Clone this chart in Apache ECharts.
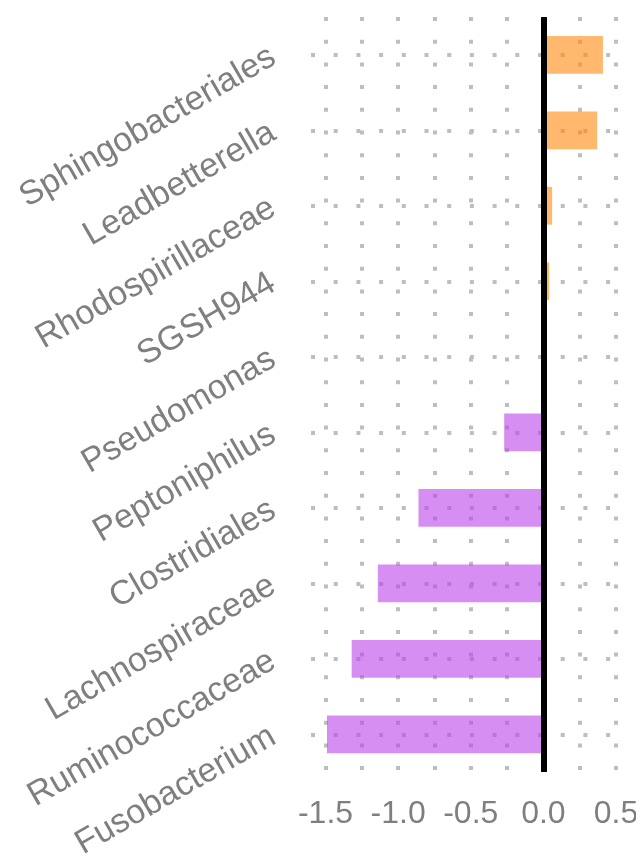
<!DOCTYPE html>
<html>
<head>
    <meta charset="UTF-8">
    <title>Taxa bar chart</title>
    <script src="https://cdn.jsdelivr.net/npm/echarts@6/dist/echarts.min.js"></script>
    <style>
        html, body { margin: 0; padding: 0; background: #fff; }
        #chart { width: 636px; height: 867px; }
    </style>
</head>
<body>
    <div id="chart"></div>
    <script>
        // data
        const taxa = ['Sphingobacteriales', 'Leadbetterella', 'Rhodospirillaceae', 'SGSH944', 'Pseudomonas',
                      'Peptoniphilus', 'Clostridiales', 'Lachnospiraceae', 'Ruminococcaceae', 'Fusobacterium'];
        const scores = [0.41, 0.37, 0.06, 0.04, 0.01, -0.27, -0.86, -1.14, -1.32, -1.49];
        const xLabels = [-1.5, -1.0, -0.5, 0.0, 0.5];
        const xGrid = [-1.5, -1.25, -1.0, -0.75, -0.5, -0.25, 0.25, 0.5];

        const dotStyle = { color: '#bebebe', width: 4, type: [4, 18.7], cap: 'butt' };

        const chart = echarts.init(document.getElementById('chart'));

        const option = {
            animation: false,
            grid: { left: 311, right: 20, top: 17, bottom: 95, containLabel: false, outerBoundsMode: 'none' },
            xAxis: {
                type: 'value',
                min: -1.6,
                max: 0.5,
                axisLine: { show: false },
                axisTick: { show: false },
                splitLine: { show: false },
                axisLabel: {
                    customValues: xLabels,
                    formatter: v => v.toFixed(1),
                    color: '#7f7f7f',
                    fontSize: 32,
                    fontFamily: 'Liberation Sans, Arial, sans-serif',
                    margin: 26
                }
            },
            yAxis: {
                type: 'category',
                data: taxa,
                inverse: true,
                axisLine: { show: false },
                axisTick: { show: false },
                splitLine: { show: false },
                axisLabel: {
                    rotate: 30,
                    color: '#7f7f7f',
                    fontSize: 34,
                    fontFamily: 'Liberation Sans, Arial, sans-serif',
                    padding: [24, 0, 0, 0],
                    margin: 38
                }
            },
            series: [
                {
                    // dotted grid behind the bars
                    type: 'line',
                    data: [],
                    z: 1,
                    markLine: {
                        z: 1,
                        silent: true,
                        symbol: 'none',
                        label: { show: false },
                        lineStyle: dotStyle,
                        data: xGrid.map(v => ({ xAxis: v }))
                            .concat(taxa.map(t => ({ yAxis: t })))
                    }
                },
                {
                    type: 'bar',
                    z: 2,
                    barWidth: '50%',
                    data: scores.map(v => ({
                        value: v,
                        itemStyle: { color: v >= 0 ? 'rgba(255,137,13,0.6)' : 'rgba(187,67,235,0.6)' }
                    })),
                    markLine: {
                        z: 5,
                        silent: true,
                        symbol: 'none',
                        label: { show: false },
                        lineStyle: { color: '#000', width: 6, type: 'solid' },
                        data: [{ xAxis: 0 }]
                    }
                }
            ]
        };

        chart.setOption(option);
    </script>
</body>
</html>
